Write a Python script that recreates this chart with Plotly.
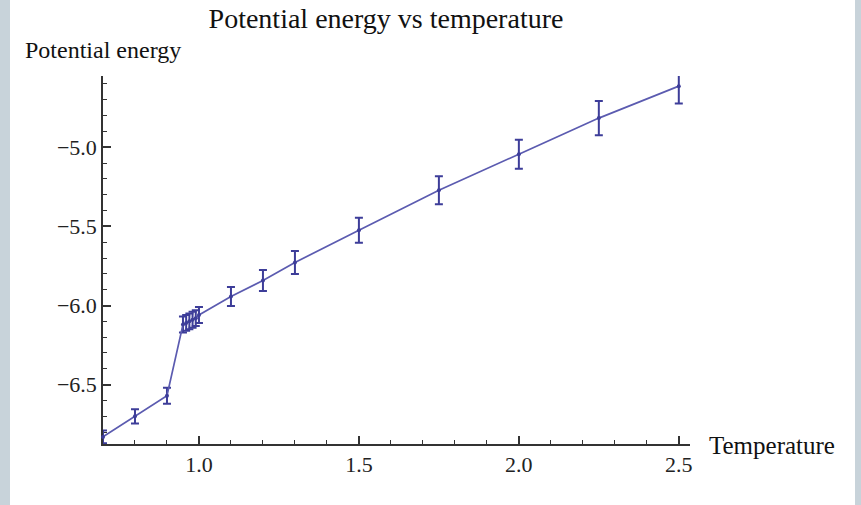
import plotly.graph_objects as go

temperature = [0.70, 0.80, 0.90, 0.95, 0.96, 0.97, 0.98, 0.99, 1.00, 1.10, 1.20, 1.30, 1.50, 1.75, 2.00, 2.25, 2.50]
energy = [-6.83, -6.70, -6.57, -6.12, -6.11, -6.10, -6.09, -6.08, -6.06, -5.943, -5.842, -5.728, -5.525, -5.272, -5.044, -4.816, -4.614]
energy_err = [0.04, 0.045, 0.05, 0.05, 0.05, 0.05, 0.05, 0.05, 0.05, 0.06, 0.066, 0.073, 0.079, 0.089, 0.092, 0.108, 0.11]

x_ticks = [1.0, 1.5, 2.0, 2.5]
y_ticks = [-5.0, -5.5, -6.0, -6.5]

W, H = 861, 505
ML, MR, MT, MB = 103, 171, 76, 61

serif = "Liberation Serif, Times New Roman, serif"
axis_col = "#333333"
data_col = "#3d3d99"

fig = go.Figure()
fig.add_trace(go.Scatter(
    x=temperature, y=energy, mode="lines+markers",
    line=dict(color="#5b5bb0", width=1.7),
    marker=dict(color=data_col, size=4),
    error_y=dict(type="data", array=energy_err, visible=True,
                 color=data_col, thickness=2, width=4),
    cliponaxis=False, showlegend=False,
))

pw = W - ML - MR
ph = H - MT - MB
# light side borders of the page
fig.add_shape(type="rect", xref="paper", yref="paper",
              x0=-ML / pw, x1=(-ML + 10) / pw, y0=-MB / ph, y1=(H - MB) / ph,
              fillcolor="#c8d3da", line_width=0, layer="below")
fig.add_shape(type="rect", xref="paper", yref="paper",
              x0=(855 - ML) / pw, x1=(W - ML) / pw, y0=-MB / ph, y1=(H - MB) / ph,
              fillcolor="#c8d3da", line_width=0, layer="below")

fig.update_layout(
    width=W, height=H,
    margin=dict(l=ML, r=MR, t=MT, b=MB),
    paper_bgcolor="white", plot_bgcolor="white",
    title=dict(text="Potential energy vs temperature", x=386 / W, xref="container",
               xanchor="center", y=1 - 18 / H, yref="container", yanchor="middle",
               font=dict(family=serif, size=28, color="#111111")),
    xaxis=dict(range=[0.70, 2.535], showgrid=False, zeroline=False,
               showline=True, linecolor=axis_col, linewidth=1.5, layer="below traces",
               tickvals=x_ticks, tickformat=".1f", ticks="inside", ticklen=8,
               tickwidth=1.5, tickcolor=axis_col,
               minor=dict(dtick=0.1, tick0=0.7, ticks="inside", ticklen=4.5,
                          tickwidth=1.3, tickcolor=axis_col),
               tickfont=dict(family=serif, size=22, color="#222222")),
    yaxis=dict(range=[-6.875, -4.55], showgrid=False, zeroline=False,
               showline=True, linecolor=axis_col, linewidth=1.5, layer="below traces",
               tickvals=y_ticks, tickformat=".1f", ticks="inside", ticklen=8,
               tickwidth=1.5, tickcolor=axis_col,
               minor=dict(dtick=0.1, tick0=-5.0, ticks="inside", ticklen=4.5,
                          tickwidth=1.3, tickcolor=axis_col),
               tickfont=dict(family=serif, size=22, color="#222222")),
    annotations=[
        dict(text="Potential energy", xref="paper", yref="paper",
             x=(23 - ML) / pw, y=(H - MB - 50) / ph, xanchor="left", yanchor="middle",
             showarrow=False, font=dict(family=serif, size=24, color="#111111")),
        dict(text="Temperature", xref="paper", yref="paper",
             x=(707 - ML) / pw, y=(H - MB - 445) / ph, xanchor="left", yanchor="middle",
             showarrow=False, font=dict(family=serif, size=25, color="#111111")),
    ],
)

fig.write_html("out.html")
